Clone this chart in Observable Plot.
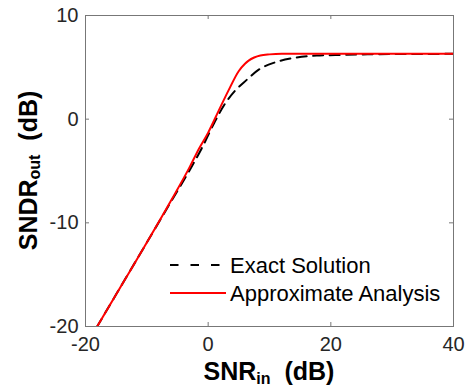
<!DOCTYPE html>
<html><head><meta charset="utf-8">
<script src="https://cdn.jsdelivr.net/npm/d3@7"></script>
<script src="https://cdn.jsdelivr.net/npm/@observablehq/plot@0.6"></script>
<style>body{margin:0;background:#fff} svg{display:block}</style>
</head><body><div id="chart"></div>
<script>
const xTicks = [-20, 0, 20, 40];
const yTicks = [-20, -10, 0, 10];
const exactX = [-18.2, -14, -10, -6, -3, -1.0, 1.0, 2.7, 4.4, 6.3, 8.3, 10.9, 13.9, 17.7, 22, 26, 30, 40];
const exactY = [-20.1, -15.9, -11.9, -7.9, -4.9, -2.75, -0.35, 1.45, 2.75, 3.8, 4.8, 5.48, 5.9, 6.13, 6.2, 6.25, 6.28, 6.3];
const approxX = [-18.2, -14, -10, -6, -3, -1.5, 0, 1.7, 3.3, 5, 6, 6.6, 7.5, 8.5, 10, 12, 20, 30, 40];
const approxY = [-20.1, -15.9, -11.9, -7.8, -4.6, -2.85, -1.3, 0.8, 2.75, 4.65, 5.35, 5.65, 5.95, 6.15, 6.25, 6.3, 6.3, 6.3, 6.3];
const seriesNames = ["Exact Solution", "Approximate Analysis"];
const seriesColors = ["#000000", "#ff0000"];
const xLabel = ["SNR", "in", "\u00a0\u00a0(dB)"];
const yLabel = ["SNDR", "out", "\u00a0\u00a0(dB)"];

const W = 471, H = 388, mL = 85, mR = 18, mT = 15, mB = 62;
const innerW = W - mL - mR, innerH = H - mT - mB;
const exact = exactX.map((x, i) => ({x, y: exactY[i]}));
const approx = approxX.map((x, i) => ({x, y: approxY[i]}));
const font = "'Liberation Sans', Arial, Helvetica, sans-serif";
const frameColor = "#777";
const dash = "10,6.5";

const plot = Plot.plot({
  width: W, height: H, marginLeft: mL, marginRight: mR, marginTop: mT, marginBottom: mB,
  style: {fontFamily: font, background: "white", color: "#262626", overflow: "visible"},
  x: {domain: [-20, 40]},
  y: {domain: [-20, 10]},
  marks: [
    Plot.line(exact, {x: "x", y: "y", stroke: seriesColors[0], strokeWidth: 2, strokeDasharray: dash, curve: "monotone-x", clip: true}),
    Plot.line(approx, {x: "x", y: "y", stroke: seriesColors[1], strokeWidth: 2, curve: "monotone-x", clip: true}),
    Plot.frame({stroke: frameColor}),
    Plot.tickX(xTicks, {x: d => d, stroke: frameColor, insetTop: innerH - 4}),
    Plot.tickX(xTicks, {x: d => d, stroke: frameColor, insetBottom: innerH - 4}),
    Plot.tickY(yTicks, {y: d => d, stroke: frameColor, insetRight: innerW - 4}),
    Plot.tickY(yTicks, {y: d => d, stroke: frameColor, insetLeft: innerW - 4}),
    Plot.axisX({ticks: xTicks, tickSize: 0, tickPadding: 10, fontSize: 20, label: null, fill: "#262626", tickFormat: d => String(d)}),
    Plot.axisY({ticks: yTicks, tickSize: 0, tickPadding: 7, fontSize: 20, label: null, fill: "#262626", tickFormat: d => String(d)})
  ]
});
document.getElementById("chart").appendChild(plot);

const svg = d3.select(plot);
const sx = plot.scale("x"), sy = plot.scale("y");
const cx = (sx.apply(-20) + sx.apply(40)) / 2;
const cy = (sy.apply(-20) + sy.apply(10)) / 2;

function addLabel(g, parts) {
  g.attr("font-family", font).attr("font-weight", "bold").attr("font-size", 25)
   .attr("fill", "#000").attr("text-anchor", "middle");
  g.append("tspan").text(parts[0]);
  g.append("tspan").attr("font-size", 16).attr("dy", 3.5).text(parts[1]);
  g.append("tspan").attr("dy", -3.5).text(parts[2]);
}
addLabel(svg.append("text").attr("x", cx).attr("y", 380), xLabel);
addLabel(svg.append("text").attr("transform", `translate(36.5,${cy}) rotate(-90)`), yLabel);

// legend
const leg = svg.append("g").attr("font-family", font).attr("font-size", 22).attr("text-anchor", "start");
seriesNames.forEach((name, i) => {
  const y = 265 + i * 28;
  leg.append("line").attr("x1", 170).attr("x2", 226).attr("y1", y).attr("y2", y)
    .attr("stroke", seriesColors[i]).attr("stroke-width", 2)
    .attr("stroke-dasharray", i === 0 ? "8.5,12" : null);
  leg.append("text").attr("x", 230).attr("y", y + 7.5).attr("fill", "#000").text(name);
});
</script>
</body></html>
